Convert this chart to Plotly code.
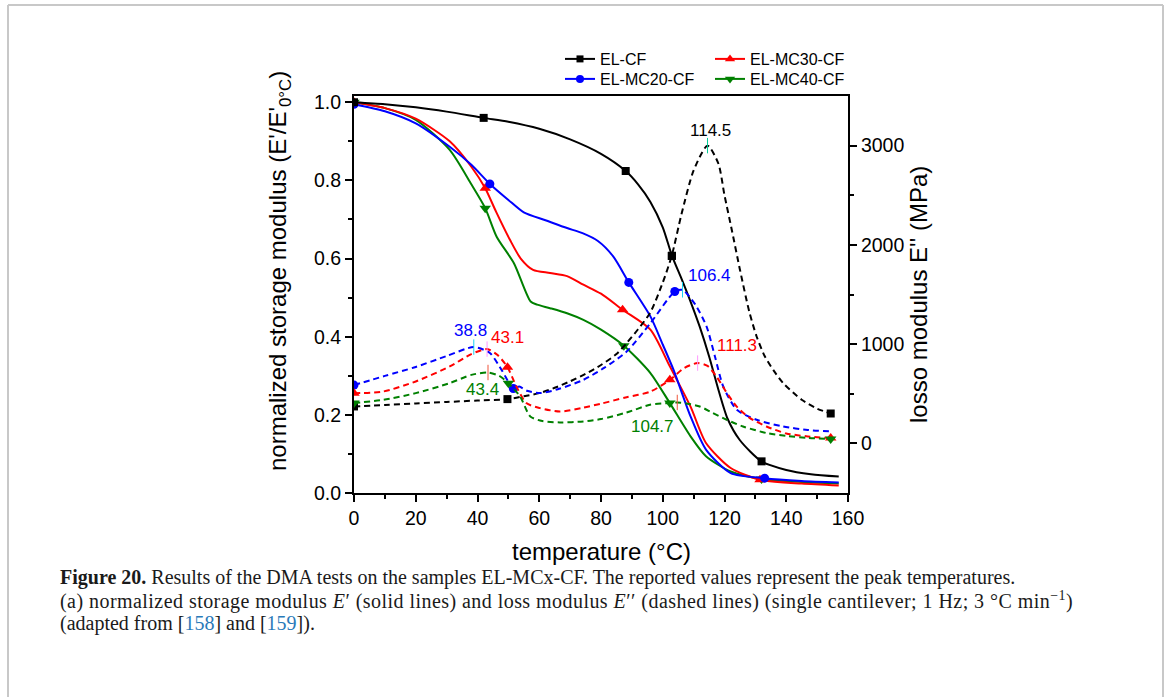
import plotly.graph_objects as go

# ---------------- data ----------------
# Normalized storage modulus E'/E'(0 °C) vs temperature (°C), left axis
cf_T = [0, 10, 20, 30, 42, 50, 60, 70, 80, 88, 92, 96, 100, 103, 106, 109, 112, 115, 118, 121, 125, 132, 140, 148, 157]
cf_E1 = [1.0, 0.995, 0.987, 0.976, 0.960, 0.950, 0.932, 0.905, 0.868, 0.824, 0.79, 0.745, 0.68, 0.607, 0.55,
         0.49, 0.425, 0.35, 0.265, 0.19, 0.135, 0.081, 0.059, 0.048, 0.042]

mc20_T = [0, 10, 20, 31, 38, 44, 50, 55, 62, 69, 74, 79, 84, 89, 96, 100, 103.5, 109, 114, 122, 133, 145, 157]
mc20_E1 = [0.995, 0.977, 0.946, 0.886, 0.84, 0.791, 0.75, 0.718, 0.698, 0.678, 0.665, 0.645, 0.605, 0.539,
           0.452, 0.38, 0.315, 0.196, 0.111, 0.051, 0.038, 0.031, 0.027]

mc30_T = [0, 10, 20, 31, 38, 42.5, 46, 50.5, 54, 58, 63.5, 69, 74.3, 80, 87, 96, 102.3, 109, 114, 122, 131.5, 145, 157]
mc30_E1 = [1.0, 0.985, 0.958, 0.90, 0.835, 0.780, 0.72, 0.648, 0.60, 0.571, 0.563, 0.555, 0.533, 0.51, 0.469,
           0.418, 0.324, 0.221, 0.128, 0.064, 0.034, 0.024, 0.019]

mc40_T = [0, 10, 20, 31, 38, 42.5, 46.2, 51.8, 57.2, 59.3, 63.5, 69, 74.3, 80, 87.4, 96, 102.3, 109, 114, 122, 132, 145, 157]
mc40_E1 = [1.0, 0.985, 0.955, 0.878, 0.79, 0.729, 0.656, 0.588, 0.49, 0.482, 0.473, 0.46, 0.443, 0.418, 0.377,
           0.307, 0.230, 0.145, 0.094, 0.055, 0.036, 0.028, 0.024]

# Loss modulus E'' (MPa) vs temperature (°C), right axis
cf_T2 = [0, 10, 20, 30, 40, 49.7, 55, 60, 65, 70, 75, 80, 85, 88.3, 92, 96, 100, 102.9, 106, 110, 114.5, 118,
         120, 122.5, 125, 128, 130.4, 133, 136, 139, 145, 150, 154.4]
cf_E2 = [372, 387, 402, 417, 432, 446, 475, 506, 560, 625, 700, 790, 900, 1010, 1150, 1320, 1620, 1889, 2300,
         2750, 3000, 2820, 2500, 2130, 1750, 1330, 1077, 880, 730, 607, 440, 350, 301]

mc20_T2 = [0, 10, 20, 30, 38.8, 44, 48, 51.6, 53.5, 56, 60.3, 66, 74.3, 81, 88.3, 96, 103.9, 106.4, 110.5,
           114.2, 116.9, 119.6, 124, 130.4, 139, 147, 154.4]
mc20_E2 = [587, 680, 770, 880, 970, 910, 730, 553, 573, 530, 507, 545, 640, 760, 925, 1211, 1530, 1547, 1400,
           1177, 875, 573, 338, 238, 170, 135, 120]

mc30_T2 = [0, 9.5, 20, 31, 38, 43.1, 46.5, 49.7, 52.6, 55.8, 60.3, 66.7, 74.3, 80, 88.3, 95.9, 102.3, 107,
           111.3, 114.5, 117.4, 120.5, 123.9, 128, 133.6, 140, 147, 154.4]
mc30_E2 = [506, 523, 624, 775, 900, 950, 890, 768, 573, 406, 355, 321, 360, 400, 465, 520, 640, 760, 809, 780,
           674, 520, 372, 260, 170, 100, 70, 53]

mc40_T2 = [0, 9.5, 20, 31, 38, 43.4, 47, 50, 53.8, 57.1, 61, 66.7, 74.3, 80, 88.3, 95.9, 102.3, 104.7, 108,
           112, 116, 120.7, 126, 133.6, 140, 147, 154.4]
mc40_E2 = [406, 439, 506, 607, 690, 714, 680, 607, 472, 271, 225, 211, 221, 245, 311, 389, 406, 412, 400, 372,
           310, 238, 170, 104, 75, 55, 43]

# temperatures at which symbols are placed on each curve
cf_sym_T = [0, 42, 88, 103, 132]
mc20_sym_T = [0, 44, 89, 133]
mc30_sym_T = [0, 42.5, 87, 131.5]
mc40_sym_T = [0, 42.5, 87.4, 132]
cf_sym_T2 = [0, 49.7, 102.9, 154.4]
mc20_sym_T2 = [0, 51.6, 103.9]
mc30_sym_T2 = [0, 49.7, 102.3, 154.4]
mc40_sym_T2 = [0, 50, 102.3, 154.4]

# loss-modulus peak temperatures (°C)
cf_peaks = [114.5]
mc20_peaks = [38.8, 106.4]
mc30_peaks = [43.1, 111.3]
mc40_peaks = [43.4, 104.7]

series_names = ["EL-CF", "EL-MC20-CF", "EL-MC30-CF", "EL-MC40-CF"]

# ---------------- layout geometry (pixels) ----------------
FIG_W, FIG_H = 1167, 697
M_L, M_R, M_T, M_B = 354, 319, 96, 204
PW = FIG_W - M_L - M_R
PH = FIG_H - M_T - M_B


def paper_x(px):
    return (px - M_L) / PW


def paper_y(py):
    return (FIG_H - M_B - py) / PH


SANS = "Liberation Sans, Arial, sans-serif"
SERIF = "Liberation Serif, Times New Roman, serif"
DASH = "6px,4px"

styles = {
    "EL-CF": dict(color="#000000", symbol="square", size=8),
    "EL-MC20-CF": dict(color="#0000ff", symbol="circle", size=9),
    "EL-MC30-CF": dict(color="#ff0000", symbol="triangle-up", size=10),
    "EL-MC40-CF": dict(color="#008000", symbol="triangle-down", size=10),
}

storage = {
    "EL-CF": (cf_T, cf_E1, cf_sym_T),
    "EL-MC20-CF": (mc20_T, mc20_E1, mc20_sym_T),
    "EL-MC30-CF": (mc30_T, mc30_E1, mc30_sym_T),
    "EL-MC40-CF": (mc40_T, mc40_E1, mc40_sym_T),
}
loss = {
    "EL-CF": (cf_T2, cf_E2, cf_sym_T2, cf_peaks),
    "EL-MC20-CF": (mc20_T2, mc20_E2, mc20_sym_T2, mc20_peaks),
    "EL-MC30-CF": (mc30_T2, mc30_E2, mc30_sym_T2, mc30_peaks),
    "EL-MC40-CF": (mc40_T2, mc40_E2, mc40_sym_T2, mc40_peaks),
}


def pick(xs, ys, wanted):
    lookup = dict(zip(xs, ys))
    return list(wanted), [lookup[t] for t in wanted]


fig = go.Figure()

# dashed loss-modulus curves (right axis)
for name in series_names:
    st = styles[name]
    T, E, symT, peaks = loss[name]
    fig.add_trace(go.Scatter(x=T, y=E, yaxis="y2", mode="lines", showlegend=False,
                             line=dict(color=st["color"], width=2, dash=DASH, shape="spline", smoothing=0.7),
                             hoverinfo="skip"))
    sx, sy = pick(T, E, symT)
    fig.add_trace(go.Scatter(x=sx, y=sy, yaxis="y2", mode="markers", showlegend=False,
                             marker=dict(color=st["color"], symbol=st["symbol"], size=st["size"]),
                             hoverinfo="skip"))
    px_, py_ = pick(T, E, peaks)
    fig.add_trace(go.Scatter(x=px_, y=py_, yaxis="y2", mode="markers", showlegend=False,
                             marker=dict(symbol="line-ns-open", size=11, line=dict(color="#555555", width=1)),
                             hoverinfo="skip"))

# solid storage-modulus curves (left axis)
for name in ["EL-MC40-CF", "EL-MC30-CF", "EL-MC20-CF", "EL-CF"]:
    st = styles[name]
    T, E, symT = storage[name]
    fig.add_trace(go.Scatter(x=T, y=E, mode="lines", showlegend=False,
                             line=dict(color=st["color"], width=2, shape="spline", smoothing=0.7),
                             hoverinfo="skip"))
    sx, sy = pick(T, E, symT)
    fig.add_trace(go.Scatter(x=sx, y=sy, mode="markers", showlegend=False,
                             marker=dict(color=st["color"], symbol=st["symbol"], size=st["size"]),
                             hoverinfo="skip"))

# legend: one small legend box per entry, arranged as two columns of two
legend_ids = {"EL-CF": "legend", "EL-MC20-CF": "legend2", "EL-MC30-CF": "legend3", "EL-MC40-CF": "legend4"}
legend_pos = {"EL-CF": (560, 42), "EL-MC20-CF": (560, 62), "EL-MC30-CF": (710, 42), "EL-MC40-CF": (710, 62)}
for name in series_names:
    st = styles[name]
    fig.add_trace(go.Scatter(x=[None], y=[None], mode="lines+markers", name=name, legend=legend_ids[name],
                             line=dict(color=st["color"], width=2),
                             marker=dict(color=st["color"], symbol=st["symbol"], size=st["size"] - 1)))

legend_layout = {}
for name in series_names:
    lx, ly = legend_pos[name]
    legend_layout[legend_ids[name]] = dict(
        x=paper_x(lx), y=paper_y(ly), xanchor="left", yanchor="top", orientation="v",
        font=dict(family=SANS, size=16, color="#000000"), bgcolor="rgba(0,0,0,0)",
        itemwidth=30, borderwidth=0)

# peak temperature labels, offsets in pixels from the peak point
label_offsets = {
    ("EL-CF", 114.5): (3, 15),
    ("EL-MC20-CF", 38.8): (-3, 17),
    ("EL-MC20-CF", 106.4): (27, 14),
    ("EL-MC30-CF", 43.1): (20, 12),
    ("EL-MC30-CF", 111.3): (39, 18),
    ("EL-MC40-CF", 43.4): (-6, -17),
    ("EL-MC40-CF", 104.7): (-25, -24),
}
annotations = []
for name in series_names:
    T, E, _, peaks = loss[name]
    lookup = dict(zip(T, E))
    for p in peaks:
        dx, dy = label_offsets[(name, p)]
        annotations.append(dict(x=p, y=lookup[p], xref="x", yref="y2", text=f"{p:.1f}", showarrow=False,
                                xshift=dx, yshift=dy, xanchor="center", yanchor="middle",
                                font=dict(family=SANS, size=17, color=styles[name]["color"])))

# axis titles
annotations += [
    dict(x=paper_x(279), y=paper_y(271), xref="paper", yref="paper", textangle=-90, showarrow=False,
         text="normalized storage modulus (E'/E'<sub>0°C</sub>)", xanchor="center", yanchor="middle",
         font=dict(family=SANS, size=24, color="#000000")),
    dict(x=paper_x(918), y=paper_y(295), xref="paper", yref="paper", textangle=-90, showarrow=False,
         text="losso modulus E'' (MPa)", xanchor="center", yanchor="middle",
         font=dict(family=SANS, size=24, color="#000000")),
    dict(x=paper_x(601), y=paper_y(551), xref="paper", yref="paper", showarrow=False,
         text="temperature (°C)", xanchor="center", yanchor="middle",
         font=dict(family=SANS, size=24, color="#000000")),
]

# caption
LINK = "#2a7ab9"
caption_lines = [
    "<b>Figure 20.</b> Results of the DMA tests on the samples EL-MCx-CF. The reported values represent the peak temperatures.",
    "<span style='letter-spacing:0.45px'>(a) normalized storage modulus <i>E</i>\u2032 (solid lines) and loss modulus "
    "<i>E</i>\u2032\u2032 (dashed lines) (single cantilever; 1 Hz; 3 \u00b0C min<sup>\u22121</sup>)</span>",
    f"(adapted from [<span style='color:{LINK}'>158</span>] and [<span style='color:{LINK}'>159</span>]).",
]
for i, line in enumerate(caption_lines):
    annotations.append(dict(x=paper_x(58), y=paper_y(577 + 23 * i), xref="paper", yref="paper", showarrow=False,
                            text=line, xanchor="left", yanchor="middle", align="left",
                            font=dict(family=SERIF, size=20, color="#1a1a1a")))

# light outer frame of the figure panel
FRAME = "#c8c8c8"
shapes = [
    dict(type="line", xref="paper", yref="paper", x0=paper_x(8), y0=paper_y(5), x1=paper_x(1163), y1=paper_y(5),
         line=dict(color=FRAME, width=2)),
    dict(type="line", xref="paper", yref="paper", x0=paper_x(8), y0=paper_y(5), x1=paper_x(8), y1=paper_y(697),
         line=dict(color=FRAME, width=2)),
    dict(type="line", xref="paper", yref="paper", x0=paper_x(1163), y0=paper_y(5), x1=paper_x(1163),
         y1=paper_y(697), line=dict(color=FRAME, width=2)),
]

tickfont = dict(family=SANS, size=19.5, color="#000000")
fig.update_layout(
    width=FIG_W, height=FIG_H,
    margin=dict(l=M_L, r=M_R, t=M_T, b=M_B, autoexpand=False),
    paper_bgcolor="#ffffff", plot_bgcolor="#ffffff",
    showlegend=True,
    xaxis=dict(range=[0, 160], dtick=20, tick0=0, ticks="outside", ticklen=7, tickwidth=1.5,
               tickcolor="#000000", showline=True, linewidth=2, linecolor="#000000", mirror=True,
               showgrid=False, zeroline=False, tickfont=tickfont,
               minor=dict(ticks="outside", ticklen=4, tickwidth=1.5, dtick=10, tick0=0, tickcolor="#000000")),
    yaxis=dict(range=[0, 1.016], dtick=0.2, tick0=0, tickformat=".1f", ticks="outside", ticklen=7,
               tickwidth=1.5, tickcolor="#000000", showline=True, linewidth=2, linecolor="#000000",
               showgrid=False, zeroline=False, tickfont=tickfont,
               minor=dict(ticks="outside", ticklen=4, tickwidth=1.5, dtick=0.1, tick0=0, tickcolor="#000000")),
    yaxis2=dict(range=[-500, 3500], overlaying="y", side="right", tickvals=[0, 1000, 2000, 3000],
                ticktext=["0", "1000", "2000", "3000"], ticks="outside", ticklen=7, tickwidth=1.5,
                tickcolor="#000000", showline=True, linewidth=2, linecolor="#000000",
                showgrid=False, zeroline=False, tickfont=tickfont,
                minor=dict(ticks="outside", ticklen=4, tickwidth=1.5, tickvals=[500, 1500, 2500],
                           tickcolor="#000000")),
    annotations=annotations,
    shapes=shapes,
    **legend_layout,
)

fig.write_html("out.html")
